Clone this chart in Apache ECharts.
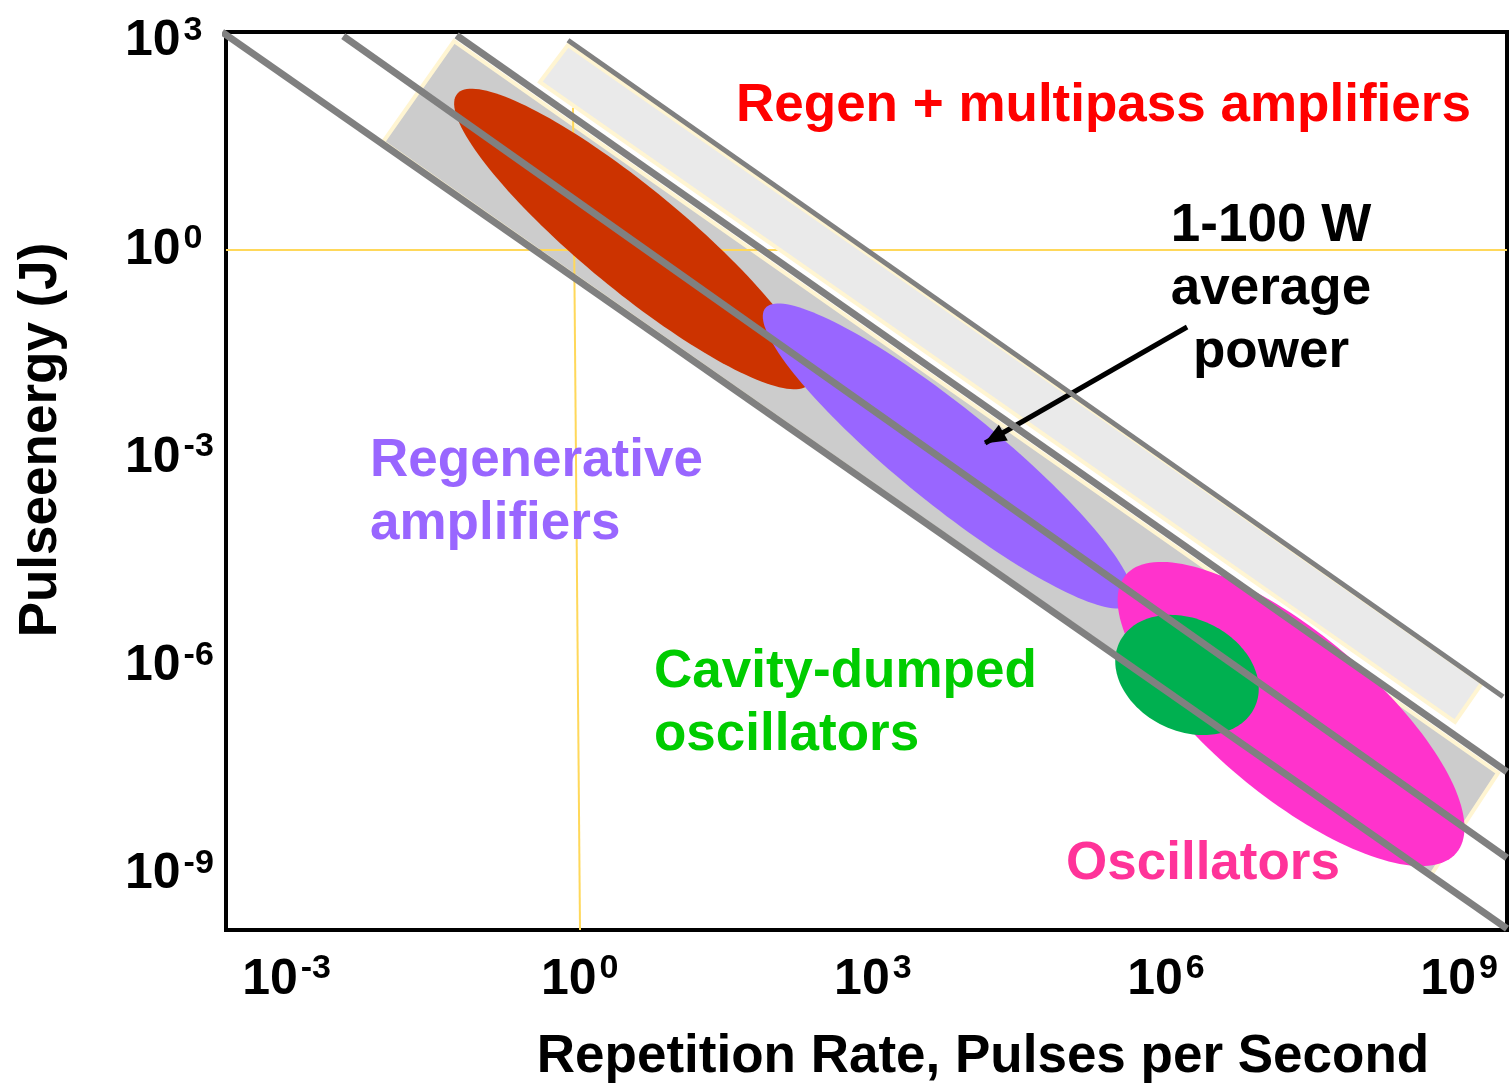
<!DOCTYPE html>
<html>
<head>
<meta charset="utf-8">
<title>Pulse energy vs repetition rate</title>
<script src="https://cdn.jsdelivr.net/npm/echarts@6.0.0/dist/echarts.min.js"></script>
<style>
html, body { margin: 0; padding: 0; background: #fff; }
#chart { width: 1509px; height: 1084px; }
</style>
</head>
<body>
<div id="chart"></div>
<script>
// everything is in decades: x = log10(rep rate), y = log10(pulse energy)
let xTicks = [-3, 0, 3, 6, 9];
let yTicks = [3, 0, -3, -6, -9];

// constant average power lines [start, end]
let powerLines = [
    [[-3.66, 3.14], [9.49, -9.78]],
    [[-2.42, 3.08], [9.49, -8.76]],
    [[-1.26, 3.09], [9.49, -7.52]],
    [[-0.12, 3.02], [9.45, -6.44]]
];
let powerLineWidths = [7, 7, 7, 5];

// shaded bands, four corners each
let bandDark = [[-1.286, 3.010], [9.398, -7.537], [8.713, -9.007], [-2.013, 1.555]];
let bandLight = [[-0.120, 2.952], [9.235, -6.240], [8.958, -6.802], [-0.407, 2.419]];

// yellow guides at 10^0
let guideH = [[-3.62, 0], [9.49, 0]];
let guideV = [[-0.069, 2.05], [0.003, -9.80]];

// laser regions: centre, half major axis, half minor axis
let regionNames = ['Regen + multipass amplifiers', 'Regenerative amplifiers', 'Oscillators', 'Cavity-dumped oscillators'];
let regionCenter = [[0.545, 0.157], [3.769, -2.970], [7.280, -6.687], [6.215, -6.125]];
let regionMajor = [[1.800, -2.090], [1.870, -2.130], [1.693, -2.001], [0.690, -0.474]];
let regionMinor = [[-0.332, -0.567], [-0.310, -0.540], [-0.533, -0.894], [-0.251, -0.725]];
let regionColors = ['#cc3300', '#9966ff', '#ff33cc', '#00b050'];

let arrowFrom = [6.216, -1.111];
let arrowTo = [4.149, -2.783];

let fontName = '"Liberation Sans", Arial, sans-serif';

let myChart = echarts.init(document.getElementById('chart'));

let tickRich = {
    b: { fontSize: 50, fontWeight: 'bold', fontFamily: fontName, color: '#000', lineHeight: 56 },
    s: { fontSize: 34, fontWeight: 'bold', fontFamily: fontName, color: '#000', lineHeight: 32, verticalAlign: 'top', padding: [0, 0, 0, 3] }
};

function tickFormat(v) {
    return '{b|10}{s|' + v + '}';
}

function bandRender(corners, fill) {
    return function(params, api) {
        let pts = corners.map(function(c) { return api.coord(c); });
        return {
            type: 'polygon',
            shape: { points: pts },
            style: { fill: fill, stroke: '#fff5d2', lineWidth: 4 }
        };
    };
}

function ellipseRender(params, api) {
    let i = params.dataIndex;
    let c = regionCenter[i];
    let m = regionMajor[i];
    let n = regionMinor[i];
    let pts = [];
    for (let k = 0; k < 160; k++) {
        let t = k / 160 * Math.PI * 2;
        pts.push(api.coord([
            c[0] + m[0] * Math.cos(t) + n[0] * Math.sin(t),
            c[1] + m[1] * Math.cos(t) + n[1] * Math.sin(t)
        ]));
    }
    return { type: 'polygon', shape: { points: pts }, style: { fill: regionColors[i] } };
}

function noteText(text, x, y, color, align) {
    return {
        type: 'text',
        x: x,
        y: y,
        z: 100,
        style: {
            text: text,
            fill: color,
            font: 'bold 53px ' + fontName,
            align: align, textAlign: align,
            verticalAlign: 'middle', textVerticalAlign: 'middle'
        }
    };
}

let series = [];

series.push({
    type: 'custom', name: 'band dark', z: 1, silent: true,
    data: [bandDark[0]], renderItem: bandRender(bandDark, '#cccccc')
});
series.push({
    type: 'line', name: 'guide h', z: 2, silent: true, clip: false,
    data: guideH, symbol: 'none', lineStyle: { color: '#ffd85a', width: 2 }
});
series.push({
    type: 'line', name: 'guide v', z: 2, silent: true, clip: false,
    data: guideV, symbol: 'none', lineStyle: { color: '#ffd85a', width: 2 }
});
series.push({
    type: 'custom', name: 'band light', z: 3, silent: true,
    data: [bandLight[0]], renderItem: bandRender(bandLight, '#eaeaea')
});
series.push({
    type: 'custom', name: 'regions', z: 4, silent: true,
    data: regionCenter, renderItem: ellipseRender
});
powerLines.forEach(function(pl, i) {
    series.push({
        type: 'line', name: 'power ' + i, z: 5, silent: true, clip: false,
        data: pl, symbol: 'none',
        lineStyle: { color: '#808080', width: powerLineWidths[i], cap: 'butt' }
    });
});
series.push({
    type: 'line', name: 'arrow', z: 6, data: [],
    markLine: {
        silent: true,
        symbol: ['none', 'triangle'],
        symbolSize: [18, 22],
        symbolOffset: [0, [0, 10]],
        label: { show: false },
        lineStyle: { color: '#000', width: 5, type: 'solid' },
        data: [[{ coord: arrowFrom }, { coord: arrowTo }]]
    }
});

let option = {
    animation: false,
    backgroundColor: '#fff',
    grid: { left: 226, right: 2, top: 32, bottom: 154, show: true, borderColor: '#000', borderWidth: 4 },
    xAxis: {
        type: 'value', min: -3.62, max: 9.49,
        axisLine: { show: false }, axisTick: { show: false }, splitLine: { show: false },
        axisLabel: { customValues: xTicks, margin: 22, formatter: tickFormat, rich: tickRich }
    },
    yAxis: {
        type: 'value', min: -9.8, max: 3.14,
        axisLine: { show: false }, axisTick: { show: false }, splitLine: { show: false },
        axisLabel: { customValues: yTicks, margin: 101, align: 'left', formatter: tickFormat, rich: tickRich }
    },
    graphic: [
        noteText('Repetition Rate, Pulses per Second', 983, 1057, '#000', 'center'),
        {
            type: 'text', x: 41, y: 440, rotation: Math.PI / 2, z: 100,
            style: {
                text: 'Pulseenergy (J)', fill: '#000', font: 'bold 53px ' + fontName,
                align: 'center', textAlign: 'center', verticalAlign: 'middle', textVerticalAlign: 'middle'
            }
        },
        noteText(regionNames[0], 736, 106, '#ff0000', 'left'),
        noteText('1-100 W', 1271, 226, '#000', 'center'),
        noteText('average', 1271, 289, '#000', 'center'),
        noteText('power', 1271, 352, '#000', 'center'),
        noteText('Regenerative', 370, 461, '#9966ff', 'left'),
        noteText('amplifiers', 370, 524, '#9966ff', 'left'),
        noteText('Cavity-dumped', 654, 672, '#00cc00', 'left'),
        noteText('oscillators', 654, 735, '#00cc00', 'left'),
        noteText(regionNames[2], 1066, 864, '#ff3399', 'left')
    ],
    series: series
};

myChart.setOption(option);
</script>
</body>
</html>
